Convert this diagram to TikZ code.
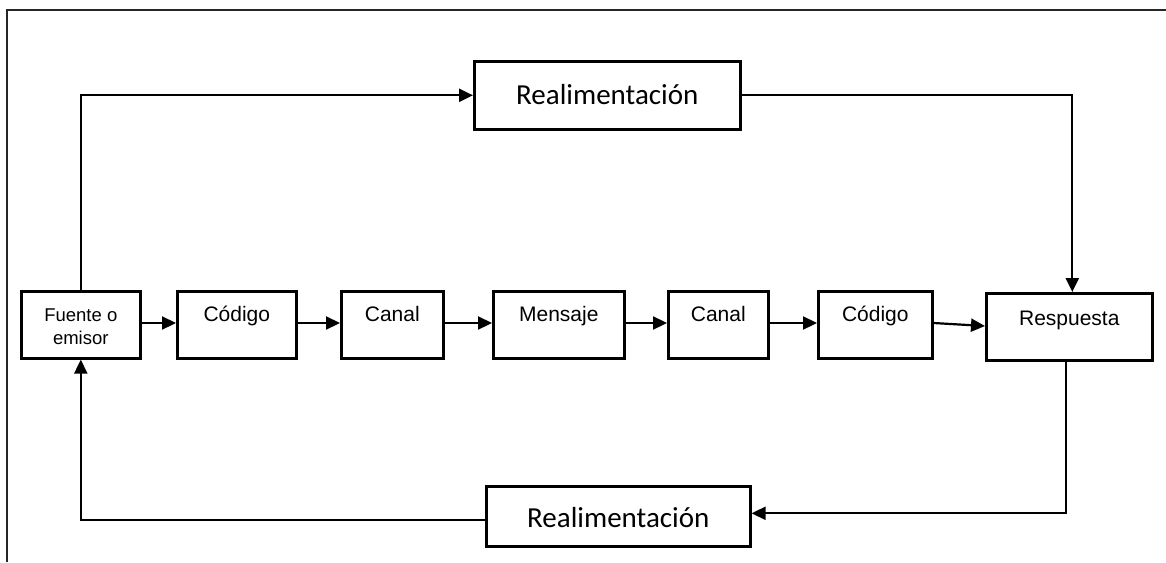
\documentclass[tikz,border=0pt]{standalone}
\usepackage{fontspec}
\setmainfont{Liberation Sans}
\newfontfamily\calib{Carlito}
\usetikzlibrary{arrows.meta}
\begin{document}
\begin{tikzpicture}[x=1pt,y=-1pt,
  box/.style={draw,line width=2.6pt,inner sep=0pt,anchor=north west,align=center,
    font=\fontsize{21}{25}\selectfont},
  fbbox/.style={box,font=\calib\fontsize{29}{34}\selectfont},
  conn/.style={line width=2.2pt,-{Triangle[length=14pt,width=13pt]}}]
\useasboundingbox (0,0) rectangle (1166,562);
% frame
\draw[line width=2.6pt,black!85] (7,562) -- (7,10) -- (1166,10);
% main row
\node[box,minimum width=119pt,text height=52.7pt,text depth=14.3pt,
      font=\fontsize{18.5}{23}\selectfont] (src) at (20,290) {Fuente o\\emisor};
\node[box,minimum width=119pt,text height=30.5pt,text depth=36.5pt] (cod1) at (176,290) {Código};
\node[box,minimum width=102pt,text height=30.5pt,text depth=36.5pt] (can1) at (340,290) {Canal};
\node[box,minimum width=131pt,text height=30.5pt,text depth=36.5pt] (msg) at (492,290) {Mensaje};
\node[box,minimum width=100pt,text height=30.5pt,text depth=36.5pt] (can2) at (667,290) {Canal};
\node[box,minimum width=114pt,text height=30.5pt,text depth=36.5pt] (cod2) at (817,290) {Código};
\node[box,minimum width=166pt,text height=32.5pt,text depth=34.5pt] (resp) at (985,292) {Respuesta};
% feedback boxes
\node[fbbox,minimum width=266pt,text height=43.3pt,text depth=24.7pt] (fbtop) at (473,60) {Realimentación};
\node[fbbox,minimum width=264pt,text height=41.3pt,text depth=18.7pt] (fbbot) at (485,485) {Realimentación};
% forward connectors
\draw[conn] ([yshift=-33pt]src.north east) -- ([yshift=-33pt]cod1.north west);
\draw[conn] ([yshift=-33pt]cod1.north east) -- ([yshift=-33pt]can1.north west);
\draw[conn] ([yshift=-33pt]can1.north east) -- ([yshift=-33pt]msg.north west);
\draw[conn] ([yshift=-33pt]msg.north east) -- ([yshift=-33pt]can2.north west);
\draw[conn] ([yshift=-33pt]can2.north east) -- ([yshift=-33pt]cod2.north west);
\draw[conn] ([yshift=-33pt]cod2.north east) -- ([yshift=-34pt]resp.north west);
% upper feedback loop
\draw[conn] (src.north) |- (fbtop.west);
\draw[conn] (fbtop.east) -| ([xshift=3pt]resp.north);
% lower feedback loop
\draw[conn] ([xshift=-3pt]resp.south) |- ([yshift=3pt]fbbot.east);
\draw[conn] ([yshift=-4pt]fbbot.west) -| (src.south);
\end{tikzpicture}
\end{document}
